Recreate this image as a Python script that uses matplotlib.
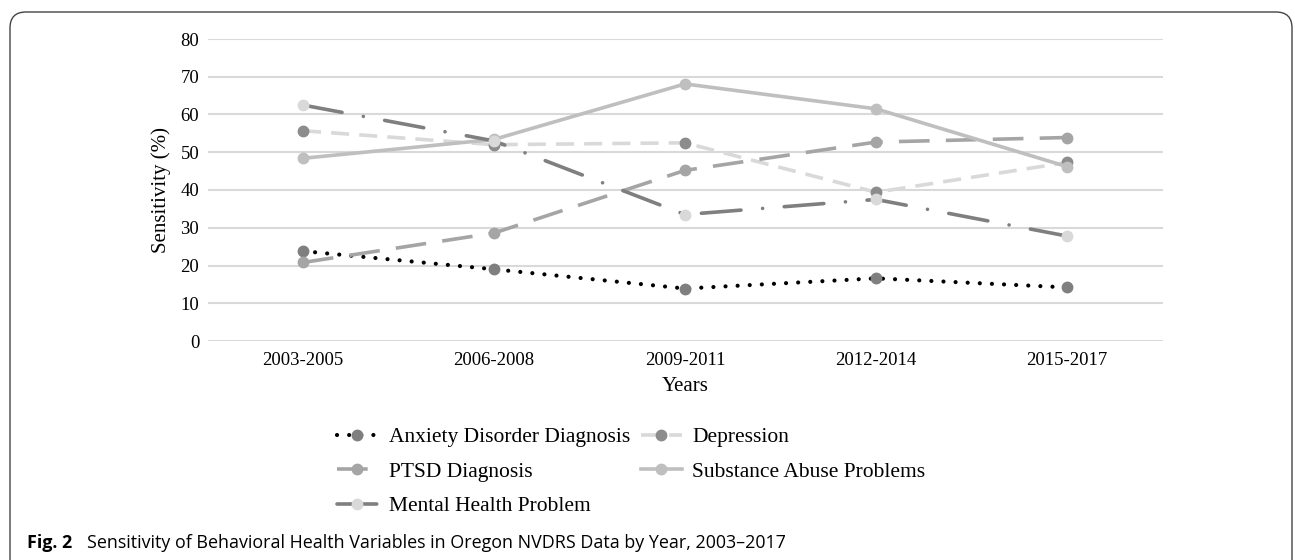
import matplotlib
matplotlib.use("Agg")
import matplotlib.pyplot as plt
from matplotlib.patches import FancyBboxPatch
from matplotlib.transforms import IdentityTransform

# data
years = ["2003-2005", "2006-2008", "2009-2011", "2012-2014", "2015-2017"]
anxiety = [23.8, 19.0, 13.9, 16.6, 14.2]
depression = [55.7, 52.0, 52.5, 39.4, 47.3]
ptsd = [20.8, 28.6, 45.2, 52.7, 53.9]
substance = [48.4, 53.4, 68.1, 61.5, 46.2]
mental = [62.5, 53.0, 33.5, 37.5, 27.8]

plt.rcParams['font.family'] = ['Liberation Serif', 'DejaVu Serif']

fig = plt.figure(figsize=(12.95, 5.6), dpi=100)
ax = fig.add_axes([207.5/1295, 219/560, 955/1295, 302/560])

x = list(range(len(years)))
lw = 2.6
ms = 7.5

ax.plot(x, anxiety, color="black", lw=3.0, linestyle=(0, (0.01, 2.9)),
        dash_capstyle="round", marker="o", ms=ms, mfc="#7f7f7f", mec="#7f7f7f",
        label="Anxiety Disorder Diagnosis", zorder=3)
ax.plot(x, depression, color="#d9d9d9", lw=lw, linestyle=(0, (5, 2.8)),
        marker="o", ms=ms, mfc="#8c8c8c", mec="#8c8c8c",
        label="Depression", zorder=3)
ax.plot(x, ptsd, color="#a5a5a5", lw=lw, linestyle=(0, (8.5, 4.5)),
        marker="o", ms=ms, mfc="#a5a5a5", mec="#a5a5a5",
        label="PTSD Diagnosis", zorder=3)
ax.plot(x, substance, color="#bfbfbf", lw=lw, linestyle="-",
        marker="o", ms=ms, mfc="#bfbfbf", mec="#bfbfbf",
        label="Substance Abuse Problems", zorder=3)
ax.plot(x, mental, color="#7f7f7f", lw=lw, linestyle=(0, (11, 6, 0.01, 6)),
        dash_capstyle="round", marker="o", ms=ms, mfc="#d9d9d9", mec="#d9d9d9",
        label="Mental Health Problem", zorder=3)

ax.set_xlim(-0.5, 4.5)
ax.set_ylim(0, 80)
ax.set_yticks(range(0, 81, 10))
ax.set_xticks(x)
ax.set_xticklabels(years)
ax.tick_params(length=0, labelsize=13.5, pad=8)
ax.tick_params(axis="y", pad=6)
ax.grid(axis="y", color="#d9d9d9", lw=1.5)
ax.set_axisbelow(True)
for s in ax.spines.values():
    s.set_visible(False)

ax.set_xlabel("Years", fontsize=15, labelpad=6)
ax.set_ylabel("Sensitivity (%)", fontsize=15, labelpad=7)

h, l = ax.get_legend_handles_labels()
order = [0, 2, 4, 1, 3]
fig.legend([h[i] for i in order], [l[i] for i in order], ncol=2,
           loc="upper left", bbox_to_anchor=(337/1295, 1 - 427/560),
           frameon=False, fontsize=15.5, handlelength=1.9,
           handletextpad=0.5, columnspacing=0.5, labelspacing=0.68,
           borderpad=0, borderaxespad=0)

fig.text(27/1295, 1 - 548/560, "Fig. 2", family="Open Sans", weight="bold",
         fontsize=12.9, va="baseline")
fig.text(87/1295, 1 - 548/560,
         "Sensitivity of Behavioral Health Variables in Oregon NVDRS Data by Year, 2003\u20132017",
         family="Open Sans", fontsize=12.9, va="baseline")

frame = FancyBboxPatch((10, -40), 1282, 588, boxstyle="round,pad=0,rounding_size=16",
                       transform=IdentityTransform(), fill=False, ec="#444444", lw=1.0)
fig.patches.append(frame)

fig.savefig("out.png", dpi=100)
